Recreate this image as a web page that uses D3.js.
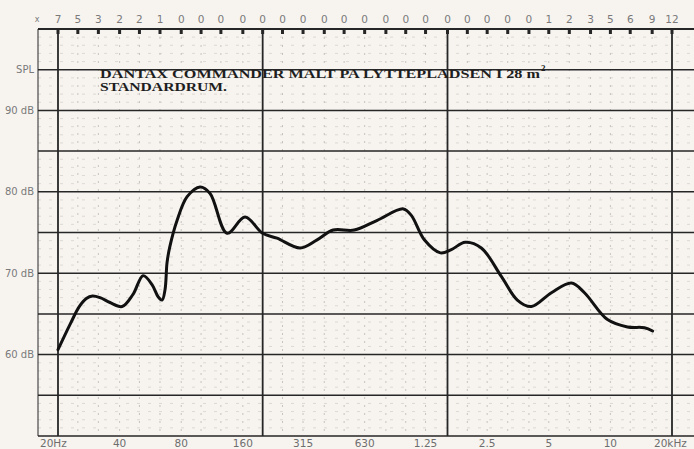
<!DOCTYPE html>
<html>
<head>
<meta charset="utf-8">
<script src="https://cdn.jsdelivr.net/npm/d3@7"></script>
<style>
  html, body { margin: 0; padding: 0; background: #f7f4f0; }
  svg { display: block; }
</style>
</head>
<body>
<svg id="chart" width="694" height="449"></svg>
<script>
// ---- data ----
const bandFreqs = [20, 25, 31.5, 40, 50, 63, 80, 100, 125, 160, 200, 250, 315, 400, 500, 630, 800, 1000, 1250, 1600, 2000, 2500, 3150, 4000, 5000, 6300, 8000, 10000, 12500, 16000, 20000];
const bandMarks = ["7","5","3","2","2","1","0","0","0","0","0","0","0","0","0","0","0","0","0","0","0","0","0","0","1","2","3","5","6","9","12"];
const xTickFreqs = [20, 40, 80, 160, 315, 630, 1250, 2500, 5000, 10000, 20000];
const xTickLabels = ["20Hz", "40", "80", "160", "315", "630", "1.25", "2.5", "5", "10", "20kHz"];
const majorFreqs = [20, 200, 1600, 20000];
const yTickValues = [95, 90, 80, 70, 60];
const yTickLabels = ["SPL", "90 dB", "80 dB", "70 dB", "60 dB"];
const curveFreq = [20, 23.0, 25.4, 27.5, 29.5, 32.1, 35.9, 41.1, 46.5, 52.1, 57.6, 61.7, 64.5, 66.7, 68.2, 70.3, 76.4, 85.5, 98.9, 110.7, 134, 164, 200, 235, 305, 369, 442, 560, 726, 974, 1065, 1233, 1477, 1671, 1953, 2341, 2932, 3510, 4110, 5150, 6450, 7470, 9680, 12120, 14680, 16070];
const curveDb   = [60.6, 63.8, 65.9, 66.9, 67.2, 67.0, 66.4, 65.9, 67.4, 69.7, 68.6, 67.1, 66.7, 68.0, 71.3, 73.2, 76.5, 79.4, 80.6, 79.8, 74.9, 76.9, 74.9, 74.3, 73.1, 74.1, 75.3, 75.3, 76.5, 77.9, 77.1, 74.1, 72.5, 72.9, 73.8, 73.1, 69.6, 66.7, 65.9, 67.6, 68.8, 67.6, 64.3, 63.4, 63.3, 62.9];
const titleLine1 = "DANTAX COMMANDER MALT PA LYTTEPLADSEN I 28 m";
const titleSup = "2";
const titleLine2 = "STANDARDRUM.";

// ---- layout ----
const svg = d3.select("#chart");
const frameL = 38, frameR = 694, plotTop = 29, plotBottom = 436;
const x = d3.scaleLog().domain([20, 20000]).range([58, 672]);
const y = d3.scaleLinear().domain([50, 100]).range([plotBottom, plotTop]);
const ink = "#262626";

// minor horizontal (every dB)
const minorDb = d3.range(51, 100).filter(d => d % 5 !== 0);
svg.append("g").selectAll("line").data(minorDb).join("line")
  .attr("x1", frameL).attr("x2", frameR)
  .attr("y1", d => y(d)).attr("y2", d => y(d))
  .attr("stroke", "#d6d1cb").attr("stroke-width", 0.8)
  .attr("stroke-dasharray", "3,8");

// minor vertical (1/3 octave)
svg.append("g").selectAll("line").data(bandFreqs.filter(f => !majorFreqs.includes(f))).join("line")
  .attr("x1", d => x(d)).attr("x2", d => x(d))
  .attr("y1", plotTop).attr("y2", plotBottom)
  .attr("stroke", "#c2bdb7").attr("stroke-width", 0.9)
  .attr("stroke-dasharray", "2,6");

// major horizontal (every 5 dB)
svg.append("g").selectAll("line").data(d3.range(50, 101, 5)).join("line")
  .attr("x1", frameL).attr("x2", frameR)
  .attr("y1", d => y(d)).attr("y2", d => y(d))
  .attr("stroke", ink).attr("stroke-width", d => (d === 100 ? 2 : 1.5));

// left frame
svg.append("line").attr("x1", frameL).attr("x2", frameL).attr("y1", plotTop).attr("y2", plotBottom)
  .attr("stroke", ink).attr("stroke-width", 1);

// major vertical
svg.append("g").selectAll("line").data(majorFreqs).join("line")
  .attr("x1", d => x(d)).attr("x2", d => x(d))
  .attr("y1", plotTop).attr("y2", plotBottom)
  .attr("stroke", ink).attr("stroke-width", 1.8);

// top band markers
svg.append("g").selectAll("rect").data(bandFreqs).join("rect")
  .attr("x", d => x(d) - 1.5).attr("y", plotTop)
  .attr("width", 3).attr("height", 5).attr("fill", ink);

// top band labels
const topG = svg.append("g").attr("font-family", "'DejaVu Sans', sans-serif")
  .attr("font-size", 10.5).attr("fill", "#7a7a7a").attr("text-anchor", "middle");
topG.selectAll("text").data(bandFreqs).join("text")
  .attr("x", d => x(d)).attr("y", 23)
  .text((d, i) => bandMarks[i]);
topG.append("text").attr("x", 37).attr("y", 22).attr("font-size", 8).text("x");

// y labels
svg.append("g").attr("font-family", "'DejaVu Sans', sans-serif")
  .attr("font-size", 10).attr("fill", "#7a7a7a").attr("text-anchor", "end")
  .selectAll("text").data(yTickValues).join("text")
  .attr("x", 34).attr("y", d => y(d) + 3.5)
  .text((d, i) => yTickLabels[i]);

// x labels
svg.append("g").attr("font-family", "'DejaVu Sans', sans-serif")
  .attr("font-size", 10.5).attr("fill", "#6e6e6e")
  .selectAll("text").data(xTickFreqs).join("text")
  .attr("x", (d, i) => i === 0 ? 40 : (i === xTickFreqs.length - 1 ? 654 : x(d)))
  .attr("text-anchor", (d, i) => (i === 0 || i === xTickFreqs.length - 1) ? "start" : "middle")
  .attr("y", 447)
  .text((d, i) => xTickLabels[i]);

// title
const tg = svg.append("g").attr("font-family", "'Liberation Serif', 'Times New Roman', serif")
  .attr("fill", "#1e1e1e").attr("font-size", 12).attr("font-weight", "bold");
tg.append("text").attr("x", 100).attr("y", 77.5)
  .attr("textLength", 440).attr("lengthAdjust", "spacingAndGlyphs")
  .text(titleLine1);
tg.append("text").attr("x", 541).attr("y", 71).attr("font-size", 9).text(titleSup);
tg.append("text").attr("x", 100).attr("y", 91)
  .attr("textLength", 127).attr("lengthAdjust", "spacingAndGlyphs")
  .text(titleLine2);

// response curve
const pts = curveFreq.map((f, i) => [x(f), y(curveDb[i])]);
svg.append("path").datum(pts)
  .attr("d", d3.line().curve(d3.curveCatmullRom.alpha(0.5)))
  .attr("fill", "none").attr("stroke", "#111").attr("stroke-width", 3)
  .attr("stroke-linejoin", "round").attr("stroke-linecap", "round");
</script>
</body>
</html>
